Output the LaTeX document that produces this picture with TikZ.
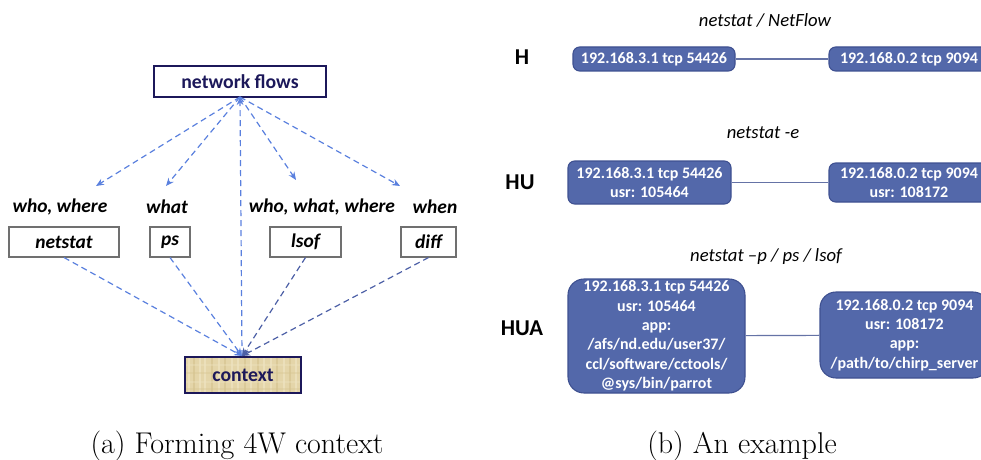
\documentclass[tikz,border=0pt]{standalone}
\usepackage{fontspec}
\setmainfont{Latin Modern Roman}
\newfontfamily\carlito{Carlito}
\usetikzlibrary{arrows.meta}
\definecolor{navy}{HTML}{1C185A}
\definecolor{flowblue}{HTML}{5A80DE}
\definecolor{flowdark}{HTML}{4C5FA6}
\definecolor{hostfill}{HTML}{5368AA}
\definecolor{hostedge}{HTML}{3E5090}
\definecolor{tan}{HTML}{E4D5A9}
\definecolor{tanlight}{HTML}{EFE4C2}
\definecolor{tandark}{HTML}{D6C592}
\definecolor{boxgray}{HTML}{707070}
\tikzset{
  x=0.75pt, y=-0.75pt,
  toolbox/.style={draw=boxgray, line width=0.8pt, fill=white, inner sep=0pt,
    font=\carlito\bfseries\itshape\fontsize{14.6}{16}\selectfont, text=black},
  wlabel/.style={font=\carlito\bfseries\itshape\fontsize{14.6}{16}\selectfont, text=black, inner sep=0pt},
  headbox/.style={draw=navy, line width=1.3pt, fill=white, inner sep=0pt,
    font=\carlito\bfseries\fontsize{14.8}{16}\selectfont, text=navy},
  flow/.style={draw=flowblue, line width=0.9pt, dash pattern=on 4.5pt off 3pt,
    -{Stealth[length=6pt,width=5pt]}},
  flowd/.style={flow, draw=flowdark},
  host/.style={draw=hostedge, line width=0.8pt, fill=hostfill, text=white,
    font=\carlito\bfseries\fontsize{12}{14.5}\selectfont, align=center,
    inner sep=0pt, rounded corners=5pt},
  hostbig/.style={host, rounded corners=12pt},
  link/.style={draw=hostedge!80!white, line width=0.9pt},
  level/.style={font=\carlito\bfseries\fontsize{17}{19}\selectfont, text=black},
  tool/.style={font=\carlito\itshape\fontsize{14}{16}\selectfont, text=black},
  caption/.style={font=\fontsize{22.5}{26}\selectfont, text=black}
}
\begin{document}
\begin{tikzpicture}
\useasboundingbox (0,0) rectangle (981,460);

% ---- (a) forming the 4W context ----
\node[headbox, minimum width=129pt, minimum height=23.25pt] (flows) at (240,81.5) {network flows};

\node[wlabel] (lwhowhere) at (60,207) {who, where};
\node[wlabel] (lwhat) at (167,207) {what};
\node[wlabel] (lwww) at (322,207) {who, what, where};
\node[wlabel] (lwhen) at (435,207) {when};

\node[toolbox, minimum width=82.5pt, minimum height=22.5pt] (netstat) at (64,242) {netstat};
\node[toolbox, minimum width=30pt, minimum height=22.5pt] (ps) at (170,242) {ps};
\node[toolbox, minimum width=53.25pt, minimum height=22.5pt] (lsof) at (305.5,242) {lsof};
\node[toolbox, minimum width=41.25pt, minimum height=22.5pt] (diff) at (428.5,242) {diff};

% textured context box
\node[minimum width=87pt, minimum height=27pt, inner sep=0pt] (context) at (243,375) {};
\fill[tan] (context.south west) rectangle (context.north east);
\begin{scope}
  \clip (context.south west) rectangle (context.north east);
  \foreach \i/\c in {188/tanlight,193/tandark,199/tanlight,204/tanlight,211/tandark,
    218/tanlight,224/tandark,231/tanlight,237/tanlight,244/tandark,250/tanlight,
    257/tandark,263/tanlight,270/tanlight,276/tandark,283/tanlight,289/tandark,295/tanlight}
    \fill[\c, opacity=0.7] (\i,350) rectangle ++(2.2,50);
  \foreach \j/\c in {364/tanlight,372/tandark,381/tanlight,388/tandark}
    \fill[\c, opacity=0.35] (180,\j) rectangle ++(130,2);
\end{scope}
\draw[navy, line width=1.3pt] (context.south west) rectangle (context.north east);
\node[font=\carlito\bfseries\fontsize{14.8}{16}\selectfont, text=navy] (contexttext) at (context.center) {context};

\coordinate (fs) at (240,97);
\coordinate (ct) at (242,356);
\coordinate (a1) at (96,186);
\coordinate (a2) at (166,186);
\coordinate (a3) at (296,180);
\coordinate (a4) at (400,186);
\draw[flow] (fs) -- (a1);
\draw[flow] (fs) -- (a2);
\draw[flow] (fs) -- (a3);
\draw[flow] (fs) -- (a4);
\draw[flow] (ct) -- (fs);

\draw[flow] (netstat.south) -- (ct);
\draw[flow] (ps.south) -- (ct);
\draw[flowd] (lsof.south) -- (ct);
\draw[flowd] (diff.south) -- (ct);

% ---- (b) an example ----
\node[tool] (t1) at (765,20) {netstat / NetFlow};
\node[tool] (t2) at (763,133) {netstat -e};
\node[tool] (t3) at (766,257) {netstat –p / ps / lsof};

\node[level] (H) at (522,57) {H};
\node[level] (HU) at (520,182) {HU};
\node[level] (HUA) at (522,328) {HUA};

\node[host, minimum width=121.5pt, minimum height=18pt] (h1) at (654,59) {192.168.3.1 tcp 54426};
\node[host, minimum width=120pt, minimum height=18pt] (h2) at (909,59) {192.168.0.2 tcp 9094};
\draw[link] (h1) -- (h2);

\node[host, minimum width=122.25pt, minimum height=32.25pt] (hu1) at (649.5,182.5) {192.168.3.1 tcp 54426\\usr: 105464};
\node[host, minimum width=120pt, minimum height=29.25pt] (hu2) at (909,182.5) {192.168.0.2 tcp 9094\\usr: 108172};
\draw[link] (hu1) -- (hu2);

\node[hostbig, minimum width=132.75pt, minimum height=85.5pt] (hua1) at (656.5,336) {192.168.3.1 tcp 54426\\usr: 105464\\app:\\/afs/nd.edu/user37/\\ccl/software/cctools/\\@sys/bin/parrot};
\node[hostbig, minimum width=126.75pt, minimum height=64.5pt] (hua2) at (904.5,335) {192.168.0.2 tcp 9094\\usr: 108172\\app:\\/path/to/chirp\_server};
\draw[link] (hua1) -- (hua2);

% ---- captions ----
\node[caption] (capa) at (237,446) {(a) Forming 4W context};
\node[caption] (capb) at (742,446) {(b) An example};
\end{tikzpicture}
\end{document}
